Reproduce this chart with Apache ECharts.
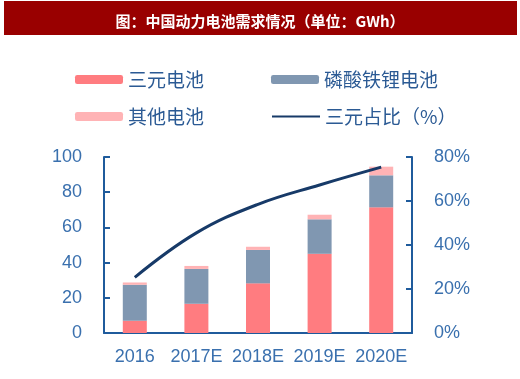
<!DOCTYPE html>
<html>
<head>
<meta charset="utf-8">
<script src="https://cdn.jsdelivr.net/npm/echarts@6/dist/echarts.min.js"></script>
<style>html,body{margin:0;padding:0;background:#fff;}#c{width:520px;height:379px;}</style>
</head>
<body>
<div id="c"></div>
<script>
const categories = ['2016', '2017E', '2018E', '2019E', '2020E'];
const ternary = [7, 16.6, 28.2, 45, 71.4];
const lfp = [20.4, 19.8, 19, 19.6, 18.2];
const other = [1.3, 1.7, 1.8, 2.6, 4.9];
const ternaryShare = [25.3, 45.5, 58.5, 67.3, 75.4];

const axisColor = '#1f5b9c';
const labelColor = '#3a70ae';
const legendColor = '#2b5a94';
const font = 'Liberation Sans, Arial, sans-serif';
const cjk = '"Noto Sans CJK SC", sans-serif';

const chart = echarts.init(document.getElementById('c'), null, {renderer: 'canvas'});
chart.setOption({
  animation: false,
  backgroundColor: '#fff',
  graphic: [{
    type: 'rect', shape: {x: 4, y: 1, width: 513, height: 34},
    style: {fill: '#990000'}, z: 0
  }],
  title: {
    text: '图：中国动力电池需求情况（单位：GWh）',
    left: 'center', top: 9,
    textStyle: {color: '#fff', fontSize: 15, fontWeight: 'bold', fontFamily: cjk}
  },
  legend: [{
    data: ['三元电池', '磷酸铁锂电池'],
    left: 70, top: 65, itemWidth: 48, itemHeight: 9, itemGap: 67,
    textStyle: {fontSize: 19, color: legendColor, fontFamily: cjk}
  }, {
    data: ['其他电池', {name: '三元占比（%）', itemStyle: {opacity: 0}}],
    left: 70, top: 102, itemWidth: 48, itemHeight: 9, itemGap: 67,
    textStyle: {fontSize: 19, color: legendColor, fontFamily: cjk}
  }],
  grid: {left: 104, right: 108, top: 157, bottom: 46},
  xAxis: {
    type: 'category', data: categories, boundaryGap: true,
    axisLine: {lineStyle: {color: axisColor, width: 2}},
    axisTick: {length: 6, lineStyle: {color: axisColor, width: 2}},
    axisLabel: {fontSize: 18, color: labelColor, fontFamily: font, margin: 15, interval: 0}
  },
  yAxis: [{
    type: 'value', min: 0, max: 100, interval: 20,
    axisLine: {show: true, lineStyle: {color: axisColor, width: 2}},
    axisTick: {show: true, inside: true, length: 6, lineStyle: {color: axisColor, width: 2}},
    splitLine: {show: false},
    axisLabel: {fontSize: 18, color: labelColor, fontFamily: font, margin: 22}
  }, {
    type: 'value', min: 0, max: 80, interval: 20, position: 'right',
    axisLine: {show: true, lineStyle: {color: axisColor, width: 2}},
    axisTick: {show: true, inside: true, length: 6, lineStyle: {color: axisColor, width: 2}},
    splitLine: {show: false},
    axisLabel: {fontSize: 18, color: labelColor, fontFamily: font, margin: 22,
      formatter: '{value}%'}
  }],
  series: [{
    name: '三元电池', type: 'bar', stack: 'a', data: ternary, barWidth: 24,
    itemStyle: {color: '#ff7c80'}
  }, {
    name: '磷酸铁锂电池', type: 'bar', stack: 'a', data: lfp,
    itemStyle: {color: '#8097b1'}
  }, {
    name: '其他电池', type: 'bar', stack: 'a', data: other,
    itemStyle: {color: '#ffb3b5'}
  }, {
    name: '三元占比（%）', type: 'line', yAxisIndex: 1, data: ternaryShare,
    smooth: 0.4, symbol: 'none',
    lineStyle: {color: '#173a68', width: 3},
    itemStyle: {color: '#173a68'}
  }]
});
</script>
</body>
</html>
